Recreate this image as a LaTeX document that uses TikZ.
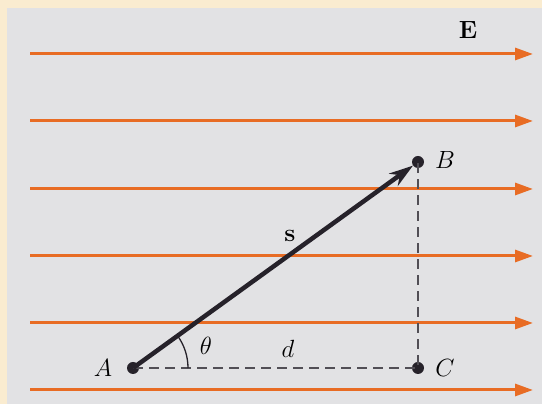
\documentclass[tikz,border=0pt]{standalone}
\usetikzlibrary{arrows.meta}
\definecolor{paper}{RGB}{250,236,208}
\definecolor{panel}{RGB}{226,226,228}
\definecolor{fieldorange}{RGB}{232,108,36}
\definecolor{ink}{RGB}{38,34,42}
\tikzset{
  field/.style={draw=fieldorange, line width=3pt, -{Triangle[length=18pt,width=12pt]}},
  dot/.style={circle, fill=ink, inner sep=0pt, minimum size=12pt},
  vec/.style={draw=ink, line width=4.5pt, -{Stealth[length=24pt,width=15pt]}},
  guide/.style={draw=ink!80, line width=1.3pt, dash pattern=on 10pt off 6pt},
  lbl/.style={font=\fontsize{31}{33}\selectfont, inner sep=0pt}
}
\begin{document}
\begin{tikzpicture}[x=1pt,y=1pt]
  \useasboundingbox (0,0) rectangle (542,404);
  \fill[paper] (0,0) rectangle (542,404);
  \fill[panel] (7,0) rectangle (542,396);
  % field lines
  \foreach \y [count=\i] in {350,283,215,148,81,14} {
    \coordinate (L\i) at (30,\y);
    \coordinate (R\i) at (533,\y);
    \draw[field] (L\i) -- (R\i);
  }
  \node[lbl] (E) at (468,374) {$\mathbf{E}$};
  % points
  \node[dot] (A) at (133,36) {};
  \node[dot] (B) at (418,242) {};
  \node[dot] (C) at (418,36) {};
  \node[lbl] (Alab) at (103,36) {$A$};
  \node[lbl] (Blab) at (445,244) {$B$};
  \node[lbl] (Clab) at (445,36) {$C$};
  \draw[guide] (A.center) -- (C.center) -- (B.center);
  \draw[vec] (A.center) -- (B);
  \draw[ink, line width=1.3pt] (A.center) ++(55,0) arc (0:35.9:55);
  \node[lbl] (theta) at (206,58) {$\theta$};
  \node[lbl] (dlab) at (288,55) {$d$};
  \node[lbl] (s) at (290,168) {$\mathbf{s}$};
\end{tikzpicture}
\end{document}
